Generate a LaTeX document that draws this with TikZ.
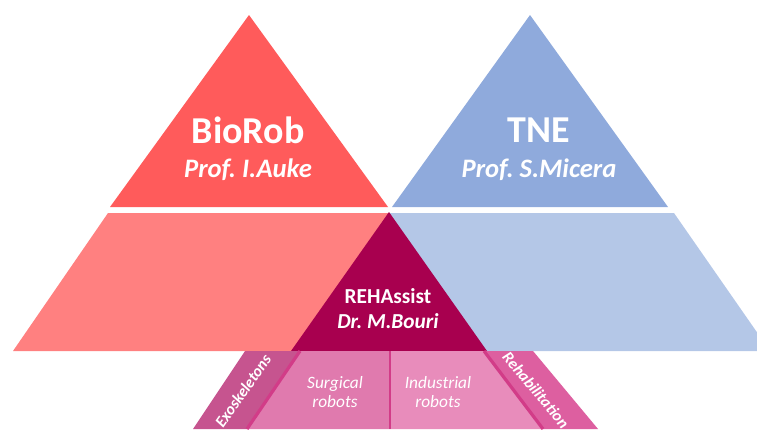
\documentclass[tikz,border=0pt]{standalone}
\usepackage{fontspec}
\setmainfont{Carlito}
\usepackage{tikz}
\frenchspacing

\definecolor{biorobdark}{HTML}{FF5B5B}
\definecolor{biorobpale}{HTML}{FF8080}
\definecolor{tnedark}{HTML}{8FAADC}
\definecolor{tnepale}{HTML}{B4C7E7}
\definecolor{rehaplum}{HTML}{A8004F}
\definecolor{exopink}{HTML}{C6548F}
\definecolor{surgpink}{HTML}{E07AAE}
\definecolor{indpink}{HTML}{E88CBB}
\definecolor{rehabpink}{HTML}{DD5FA0}
\definecolor{splitpink}{HTML}{D23C88}

\begin{document}
\begin{tikzpicture}[
    x=0.75pt, y=-0.75pt,
    labname/.style={text=white, anchor=base, font=\fontsize{28.5}{30}\selectfont\bfseries},
    headname/.style={text=white, anchor=base, font=\fontsize{20}{22}\selectfont\bfseries\itshape},
    groupname/.style={text=white, anchor=base, font=\fontsize{16}{18}\selectfont\bfseries},
    fieldtext/.style={text=white, anchor=base, font=\fontsize{13}{15}\selectfont\itshape},
    sidetext/.style={text=white, font=\fontsize{12}{14}\selectfont\bfseries\itshape},
    splitline/.style={draw=splitpink, line width=2.4pt}
]
\useasboundingbox (0,0) rectangle (757,429);
\clip (0,0) rectangle (757,429);

% two lab triangles on top
\fill[biorobdark] (249,15) -- (388,207) -- (110,207) -- cycle;
\fill[tnedark] (530,15) -- (668,207) -- (392,207) -- cycle;

% middle band, split in the centre
\fill[biorobpale] (108,213) -- (389,213) -- (389,351) -- (13,351) -- cycle;
\fill[tnepale] (389,213) -- (674,213) -- (770,351) -- (389,351) -- cycle;
\fill[rehaplum] (389,212) -- (487,351) -- (291,351) -- cycle;

% application strips
\fill[exopink] (245,351) -- (300,351) -- (247,429) -- (193,429) -- cycle;
\fill[surgpink] (300,351) -- (390,351) -- (390,429) -- (247,429) -- cycle;
\fill[indpink] (390,351) -- (484,351) -- (543,429) -- (390,429) -- cycle;
\fill[rehabpink] (484,351) -- (533,351) -- (598,429) -- (543,429) -- cycle;
\draw[splitline] (300,351) -- (247,429);
\draw[splitline, line width=1.8pt] (390,351) -- (390,429);
\draw[splitline] (484,351) -- (543,429);

\node[labname] (biorob) at (248,143) {BioRob};
\node[headname] (auke) at (248,177) {Prof. I.Auke};
\node[labname] (tne) at (539,142) {TNE};
\node[headname] (micera) at (539,177) {Prof. S.Micera};
\node[groupname] (rehassist) at (388,303) {REHAssist};
\node[groupname, font=\fontsize{16}{18}\selectfont\bfseries\itshape] (bouri) at (388,328) {Dr. M.Bouri};

\node[fieldtext] (surgical) at (335,388) {Surgical};
\node[fieldtext] (surgrobots) at (335,407) {robots};
\node[fieldtext] (industrial) at (438,388) {Industrial};
\node[fieldtext] (indrobots) at (438,407) {robots};
\node[sidetext, rotate=55] (exo) at (243,391) {Exoskeletons};
\node[sidetext, rotate=-50] (rehab) at (536,390) {Rehabilitation};
\end{tikzpicture}
\end{document}
